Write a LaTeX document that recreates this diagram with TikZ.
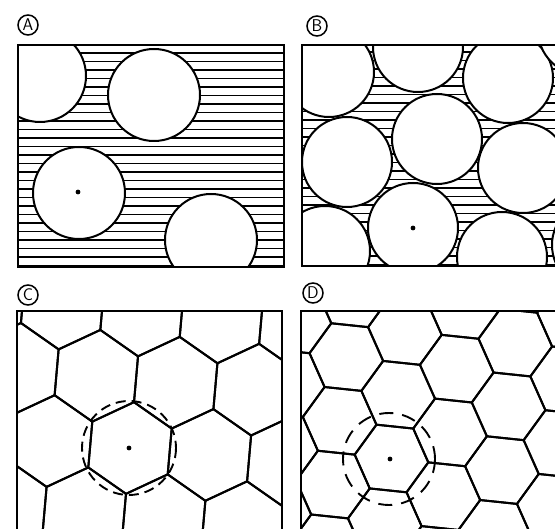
\documentclass[tikz,border=0pt]{standalone}
\usepackage{tikz}
\usetikzlibrary{calc}

\begin{document}
\begin{tikzpicture}[x=1pt,y=-1pt,
  frame/.style={line width=2.2pt},
  hatch/.style={line width=1.3pt},
  grain/.style={draw,fill=white,line width=2pt},
  cell/.style={line width=2pt,line join=round},
  probe/.style={line width=1.9pt,dash pattern=on 10pt off 6pt},
  tag/.style={circle,draw,line width=1.5pt,minimum size=20pt,inner sep=0pt,font=\sffamily\fontsize{17}{17}\selectfont}]
  \useasboundingbox (0,0) rectangle (555,529);

  % A
  \node[tag] (labA) at (28,25) {A};
  \begin{scope}
    \clip (18,45) rectangle (284,267);
    \foreach \y in {53,61.5,...,266} \draw[hatch] (18,\y) -- (284,\y);
    \foreach \x/\y in {40/76,154/95,79/193,211/240} \draw[grain] (\x,\y) circle (46);
  \end{scope}
  \draw[frame] (18,45) rectangle (284,267);
  \fill (78,192) circle (2.4);

  % B
  \node[tag] (labB) at (317,26) {B};
  \begin{scope}
    \clip (302,45) rectangle (560,266);
    \foreach \y in {52,60.5,...,266} \draw[hatch] (302,\y) -- (560,\y);
    \foreach \x/\y in {329/72,418/47,508/78,583/30,347/162,437/139,523/168,325/251,413/228,502/257,597/245}
      \draw[grain] (\x,\y) circle (45);
  \end{scope}
  \draw[frame] (560,45) -- (302,45) -- (302,266) -- (560,266);
  \fill (413,228) circle (2.4);

  % C
  \node[tag] (labC) at (28,295) {C};
  \begin{scope}
    \clip (17,311) rectangle (282,535);
    \foreach \i in {-4,...,4} \foreach \j in {-4,...,4} {
      \coordinate (hc) at ($(130,448)+\i*(5:79.7)+\j*(-55:79.7)$);
      \draw[cell] (hc) +(-85:46) -- +(-25:46) -- +(35:46) -- +(95:46) -- +(155:46) -- +(215:46) -- cycle;
    }
  \end{scope}
  \draw[frame] (17,535) -- (17,311) -- (282,311) -- (282,535);
  \draw[probe] (129,448) circle (47);
  \fill (129,448) circle (2.4);

  % D
  \node[tag] (labD) at (313,293) {D};
  \begin{scope}
    \clip (301,311) rectangle (560,535);
    \foreach \i in {-5,...,5} \foreach \j in {-5,...,5} {
      \coordinate (hd) at ($(391.5,458.5)+\i*(-24:64.1)+\j*(36:64.1)$);
      \draw[cell] (hd) +(6:37) -- +(66:37) -- +(126:37) -- +(186:37) -- +(246:37) -- +(306:37) -- cycle;
    }
  \end{scope}
  \draw[frame] (301,535) -- (301,311) -- (560,311);
  \draw[probe,dash pattern=on 14pt off 9pt] (389,459) circle (46);
  \fill (390,459) circle (2.4);
\end{tikzpicture}
\end{document}
